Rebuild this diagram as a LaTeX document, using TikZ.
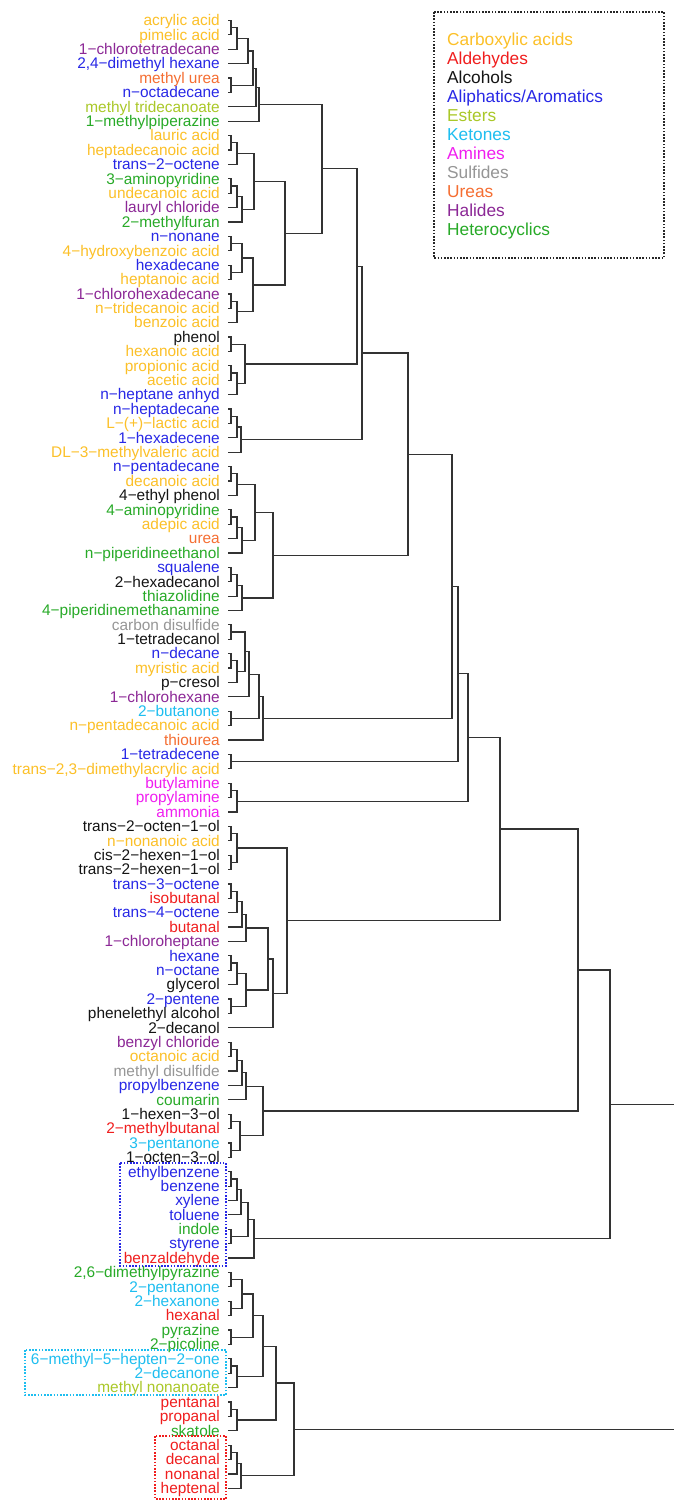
\documentclass[tikz,border=0pt]{standalone}
\usepackage{fontspec}
\setmainfont{Liberation Sans}
\usetikzlibrary{calc}
\definecolor{ca}{RGB}{252,192,40}
\definecolor{ald}{RGB}{240,30,30}
\definecolor{alc}{RGB}{20,20,20}
\definecolor{ali}{RGB}{40,40,230}
\definecolor{est}{RGB}{170,200,40}
\definecolor{ket}{RGB}{30,190,240}
\definecolor{ami}{RGB}{240,30,240}
\definecolor{sul}{RGB}{150,150,150}
\definecolor{ure}{RGB}{245,110,50}
\definecolor{hal}{RGB}{140,40,150}
\definecolor{het}{RGB}{40,170,40}
\newcommand\mrg[4]{%
  \coordinate (#1m) at ($(#2)!0.5!(#3)$);
  \coordinate (#1x) at (#4,0);
  \coordinate (#1) at (#1x |- #1m);
  \draw[tree] (#2) -| (#1) |- (#3);
}
\begin{document}
\begin{tikzpicture}[x=1pt,y=-1pt,
  tree/.style={draw=black!80,line width=1.2pt},
  lab/.style={anchor=base east,inner sep=0pt,font=\fontsize{15.4}{18}\selectfont},
  leg/.style={anchor=base west,inner sep=0pt,font=\fontsize{17.3}{20}\selectfont},
  dotbox/.style={line width=1.8pt,dash pattern=on 1.6pt off 1.6pt}]
\useasboundingbox (0,0) rectangle (674,1501);
\fill[white] (0,0) rectangle (674,1501);
% leaves
\foreach \t/\c [count=\i] in {
{acrylic acid}/ca, {pimelic acid}/ca, {1−chlorotetradecane}/hal, {2,4−dimethyl hexane}/ali,
{methyl urea}/ure, {n−octadecane}/ali, {methyl tridecanoate}/est, {1−methylpiperazine}/het,
{lauric acid}/ca, {heptadecanoic acid}/ca, {trans−2−octene}/ali, {3−aminopyridine}/het,
{undecanoic acid}/ca, {lauryl chloride}/hal, {2−methylfuran}/het, {n−nonane}/ali,
{4−hydroxybenzoic acid}/ca, {hexadecane}/ali, {heptanoic acid}/ca, {1−chlorohexadecane}/hal,
{n−tridecanoic acid}/ca, {benzoic acid}/ca, {phenol}/alc, {hexanoic acid}/ca,
{propionic acid}/ca, {acetic acid}/ca, {n−heptane anhyd}/ali, {n−heptadecane}/ali,
{L−(+)−lactic acid}/ca, {1−hexadecene}/ali, {DL−3−methylvaleric acid}/ca, {n−pentadecane}/ali,
{decanoic acid}/ca, {4−ethyl phenol}/alc, {4−aminopyridine}/het, {adepic acid}/ca,
{urea}/ure, {n−piperidineethanol}/het, {squalene}/ali, {2−hexadecanol}/alc,
{thiazolidine}/het, {4−piperidinemethanamine}/het, {carbon disulfide}/sul, {1−tetradecanol}/alc,
{n−decane}/ali, {myristic acid}/ca, {p−cresol}/alc, {1−chlorohexane}/hal,
{2−butanone}/ket, {n−pentadecanoic acid}/ca, {thiourea}/ure, {1−tetradecene}/ali,
{trans−2,3−dimethylacrylic acid}/ca, {butylamine}/ami, {propylamine}/ami, {ammonia}/ami,
{trans−2−octen−1−ol}/alc, {n−nonanoic acid}/ca, {cis−2−hexen−1−ol}/alc, {trans−2−hexen−1−ol}/alc,
{trans−3−octene}/ali, {isobutanal}/ald, {trans−4−octene}/ali, {butanal}/ald,
{1−chloroheptane}/hal, {hexane}/ali, {n−octane}/ali, {glycerol}/alc,
{2−pentene}/ali, {phenelethyl alcohol}/alc, {2−decanol}/alc, {benzyl chloride}/hal,
{octanoic acid}/ca, {methyl disulfide}/sul, {propylbenzene}/ali, {coumarin}/het,
{1−hexen−3−ol}/alc, {2−methylbutanal}/ald, {3−pentanone}/ket, {1−octen−3−ol}/alc,
{ethylbenzene}/ali, {benzene}/ali, {xylene}/ali, {toluene}/ali,
{indole}/het, {styrene}/ali, {benzaldehyde}/ald, {2,6−dimethylpyrazine}/het,
{2−pentanone}/ket, {2−hexanone}/ket, {hexanal}/ald, {pyrazine}/het,
{2−picoline}/het, {6−methyl−5−hepten−2−one}/ket, {2−decanone}/ket, {methyl nonanoate}/est,
{pentanal}/ald, {propanal}/ald, {skatole}/het, {octanal}/ald,
{decanal}/ald, {nonanal}/ald, {heptenal}/ald}{
  \pgfmathsetmacro\yy{20.5+(\i-1)*14.39}
  \node[lab,text=\c] (L\i) at (220,\yy+5.3) {\t};
  \coordinate (l\i) at (228,\yy);
}
% clusters 1-8
\mrg{m1}{l1}{l2}{231}
\mrg{m2}{m1}{l3}{237}
\mrg{m3}{m2}{l4}{248}
\mrg{m4}{l5}{l6}{231}
\mrg{m5}{m3}{m4}{253}
\mrg{m6}{m5}{l7}{256}
\mrg{m7}{m6}{l8}{259}
% 9-22
\mrg{m8}{l9}{l10}{231}
\mrg{m9}{m8}{l11}{237}
\mrg{m10}{l12}{l13}{231}
\mrg{m11}{m10}{l14}{237}
\mrg{m12}{m11}{l15}{242}
\mrg{m13}{m9}{m12}{254}
\mrg{m14}{l16}{l17}{231}
\mrg{m15}{l18}{l19}{231}
\mrg{m16}{m14}{m15}{242}
\mrg{m17}{l20}{l21}{231}
\mrg{m18}{m17}{l22}{237}
\mrg{m19}{m16}{m18}{253}
\mrg{m20}{m13}{m19}{285}
\mrg{m21}{m7}{m20}{322}
% 23-27
\mrg{m22}{l23}{l24}{231}
\mrg{m23}{l25}{l26}{231}
\mrg{m24}{m23}{l27}{237}
\mrg{m25}{m22}{m24}{245}
% 28-31
\mrg{m26}{l28}{l29}{231}
\mrg{m27}{m26}{l30}{237}
\mrg{m28}{m27}{l31}{241}
% 32-42
\mrg{m29}{l32}{l33}{231}
\mrg{m30}{m29}{l34}{237}
\mrg{m31}{l35}{l36}{231}
\mrg{m32}{m31}{l37}{237}
\mrg{m33}{m32}{l38}{242}
\mrg{m34}{m30}{m33}{255}
\mrg{m35}{l39}{l40}{231}
\mrg{m36}{m35}{l41}{237}
\mrg{m37}{m36}{l42}{242}
\mrg{m38}{m34}{m37}{273}
% 43-51
\mrg{m39}{l43}{l44}{231}
\mrg{m40}{l45}{l46}{231}
\mrg{m41}{m40}{l47}{237}
\mrg{m42}{m39}{m41}{245}
\mrg{m43}{m42}{l48}{249}
\mrg{m44}{l49}{l50}{231}
\mrg{m45}{m43}{m44}{259}
\mrg{m46}{m45}{l51}{263}
% 52-56
\mrg{m47}{l52}{l53}{231}
\mrg{m48}{l54}{l55}{231}
\mrg{m49}{m48}{l56}{237}
% 57-71
\mrg{m50}{l57}{l58}{231}
\mrg{m51}{l59}{l60}{231}
\mrg{m52}{m50}{m51}{237}
\mrg{m53}{l61}{l62}{231}
\mrg{m54}{m53}{l63}{237}
\mrg{m55}{m54}{l64}{242}
\mrg{m56}{m55}{l65}{246}
\mrg{m57}{l66}{l67}{231}
\mrg{m58}{m57}{l68}{237}
\mrg{m59}{l69}{l70}{231}
\mrg{m60}{m58}{m59}{246}
\mrg{m61}{m56}{m60}{268}
\mrg{m62}{m61}{l71}{273}
\mrg{m63}{m52}{m62}{287}
% 72-80
\mrg{m64}{l72}{l73}{231}
\mrg{m65}{m64}{l74}{237}
\mrg{m66}{m65}{l75}{242}
\mrg{m67}{m66}{l76}{246}
\mrg{m68}{l77}{l78}{231}
\mrg{m69}{l79}{l80}{231}
\mrg{m70}{m68}{m69}{240}
\mrg{m71}{m67}{m70}{263}
% 81-87
\mrg{m72}{l81}{l82}{231}
\mrg{m73}{m72}{l83}{237}
\mrg{m74}{m73}{l84}{241}
\mrg{m75}{l85}{l86}{231}
\mrg{m76}{m74}{m75}{248}
\mrg{m77}{m76}{l87}{254}
% 88-103
\mrg{m78}{l88}{l89}{231}
\mrg{m79}{l90}{l91}{231}
\mrg{m80}{m78}{m79}{242}
\mrg{m81}{l92}{l93}{231}
\mrg{m82}{m80}{m81}{253}
\mrg{m83}{l94}{l95}{231}
\mrg{m84}{m83}{l96}{237}
\mrg{m85}{m82}{m84}{263}
\mrg{m86}{l97}{l98}{231}
\mrg{m87}{m86}{l99}{237}
\mrg{m88}{m85}{m87}{276}
\mrg{m89}{l100}{l101}{231}
\mrg{m90}{m89}{l102}{237}
\mrg{m91}{m90}{l103}{241}
\mrg{m92}{m88}{m91}{294}
% upper levels
\mrg{p1}{m21}{m25}{357}
\mrg{p2}{p1}{m28}{362}
\mrg{p3}{p2}{m38}{408}
\mrg{p4}{p3}{m46}{452}
\mrg{p5}{p4}{m47}{458}
\mrg{p6}{p5}{m49}{468}
\mrg{p7}{p6}{m63}{500}
\mrg{p8}{p7}{m71}{578}
\mrg{p9}{p8}{m77}{610}
\coordinate (edge) at (674,0);
\coordinate (rA) at (edge |- p9);
\coordinate (rB) at (edge |- m92);
\draw[tree] (p9) -- (rA);
\draw[tree] (m92) -- (rB);
% highlight boxes
\draw[dotbox,draw=ali] (120,1163) rectangle (226,1266);
\draw[dotbox,draw=ket] (25,1350) rectangle (226,1395);
\draw[dotbox,draw=ald] (155,1436) rectangle (226,1499);
% legend
\draw[dotbox,draw=black!85] (434,12) rectangle (664,258);
\foreach \t/\c [count=\k] in {{Carboxylic acids}/ca, {Aldehydes}/ald, {Alcohols}/alc,
  {Aliphatics/Aromatics}/ali, {Esters}/est, {Ketones}/ket, {Amines}/ami, {Sulfides}/sul,
  {Ureas}/ure, {Halides}/hal, {Heterocyclics}/het}{
  \pgfmathsetmacro\yy{40+(\k-1)*18.9}
  \node[leg,text=\c] (G\k) at (447,\yy+6) {\t};
}
\end{tikzpicture}
\end{document}
